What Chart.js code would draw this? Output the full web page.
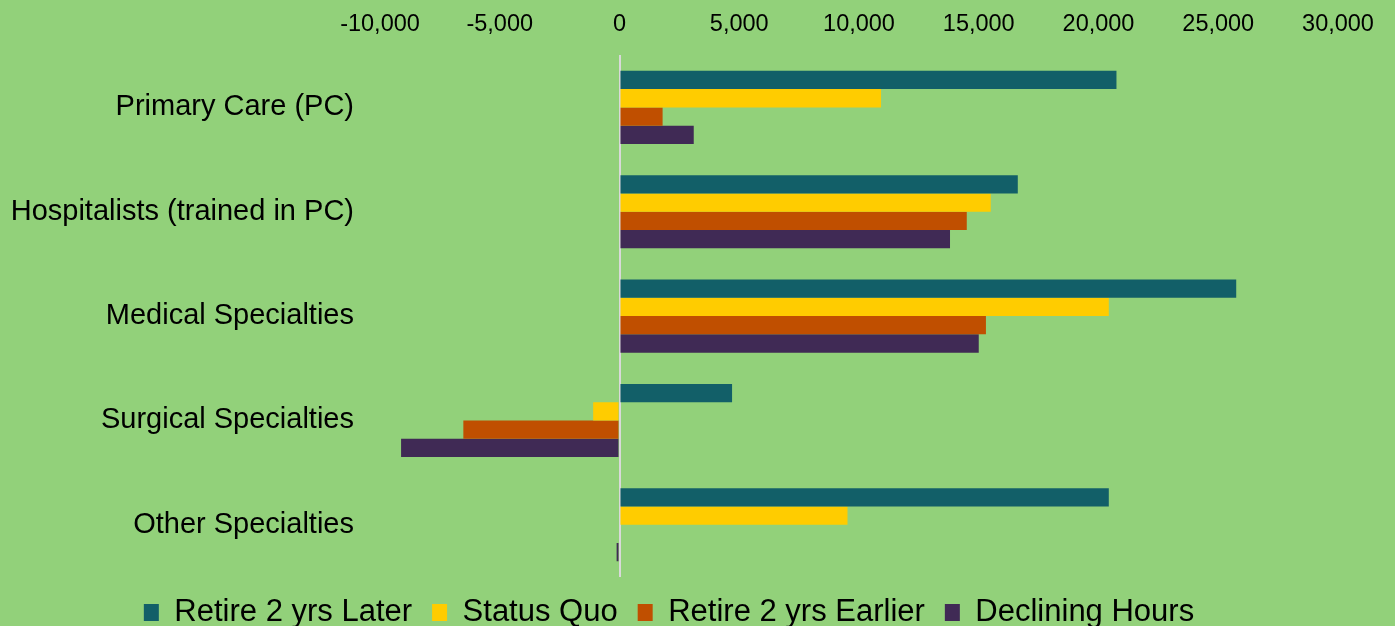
<!DOCTYPE html>
<html>
<head>
<meta charset="utf-8">
<script src="https://cdn.jsdelivr.net/npm/chart.js@4/dist/chart.umd.min.js"></script>
<style>
  html, body { margin: 0; padding: 0; overflow: hidden; background: #92d17a; }
  #wrap { width: 1395px; height: 655px; margin-top: -17px; }
</style>
</head>
<body>
<div id="wrap"><canvas id="chart" width="1395" height="655"></canvas></div>
<script>
// categories and series
const categories = ["Primary Care (PC)", "Hospitalists (trained in PC)", "Medical Specialties", "Surgical Specialties", "Other Specialties"];
const retireLater = [20750, 16630, 25750, 4700, 20430];
const statusQuo = [10920, 15500, 20430, -1100, 9520];
const retireEarlier = [1800, 14500, 15300, -6520, 0];
const decliningHours = [3100, 13800, 15000, -9120, -120];
const xTicks = [-10000, -5000, 0, 5000, 10000, 15000, 20000, 25000, 30000];

const FONT = "'Liberation Sans', Arial, sans-serif";

new Chart(document.getElementById("chart"), {
    type: 'bar',
    data: {
        labels: categories,
        datasets: [
            { label: "Retire 2 yrs Later", data: retireLater, backgroundColor: "#125f68" },
            { label: "Status Quo", data: statusQuo, backgroundColor: "#ffcc00" },
            { label: "Retire 2 yrs Earlier", data: retireEarlier, backgroundColor: "#c04f00" },
            { label: "Declining Hours", data: decliningHours, backgroundColor: "#402a55" }
        ]
    },
    options: {
        indexAxis: 'y',
        responsive: false,
        animation: false,
        layout: { padding: { top: 10, right: 57, bottom: 0, left: 0 } },
        datasets: { bar: { categoryPercentage: 0.7, barPercentage: 1.0 } },
        scales: {
            x: {
                position: 'top',
                min: -10000,
                max: 30000,
                afterBuildTicks: axis => { axis.ticks = xTicks.map(v => ({ value: v })); },
                border: { display: false },
                grid: {
                    drawTicks: false,
                    color: ctx => ctx.tick && ctx.tick.value === 0 ? '#d9d9d9' : 'rgba(0,0,0,0)',
                    lineWidth: 2
                },
                ticks: {
                    padding: 17,
                    color: '#000',
                    font: { family: FONT, size: 23.5 },
                    callback: v => v.toLocaleString('en-US')
                }
            },
            y: {
                border: { display: false },
                grid: { display: false, drawTicks: false },
                afterFit: scale => { scale.width = 380; },
                ticks: {
                    padding: 26,
                    color: '#000',
                    font: { family: FONT, size: 29 }
                }
            }
        },
        plugins: {
            tooltip: { enabled: false },
            legend: {
                position: 'bottom',
                labels: {
                    color: '#000',
                    boxWidth: 15,
                    boxHeight: 17,
                    padding: 20,
                    font: { family: FONT, size: 31 }
                }
            }
        }
    }
});
</script>
</body>
</html>
